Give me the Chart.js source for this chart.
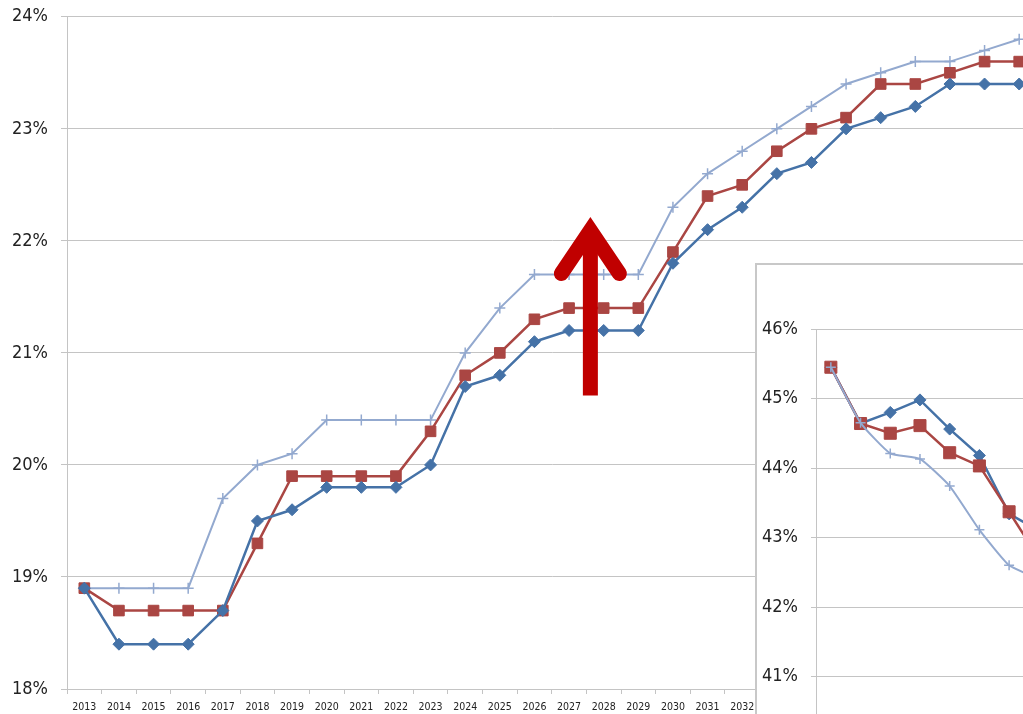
<!DOCTYPE html>
<html>
<head>
    <title>Share chart</title>
    <script src="https://cdn.jsdelivr.net/npm/chart.js"></script>
    <style>
        html, body { margin: 0; padding: 0; overflow: hidden; background: #fff; }
        #main { position: absolute; left: 0; top: -7px; width: 1045px; height: 721px; }
        #inset { position: absolute; left: 755px; top: 263px; width: 425px; height: 506px;
                 background: #fff; border: 2px solid #c8c8c8; }
    </style>
</head>
<body>
    <div id="main"><canvas id="mainChart"></canvas></div>
    <div id="inset"><canvas id="insetChart"></canvas></div>

    <script>
        const years = ['2013','2014','2015','2016','2017','2018','2019','2020','2021','2022',
                       '2023','2024','2025','2026','2027','2028','2029','2030','2031','2032',
                       '2033','2034','2035','2036','2037','2038','2039','2040'];
        const lowSeries = [18.9,18.4,18.4,18.4,18.7,19.5,19.6,19.8,19.8,19.8,
                           20.0,20.7,20.8,21.1,21.2,21.2,21.2,21.8,22.1,22.3,
                           22.6,22.7,23.0,23.1,23.2,23.4,23.4,23.4];
        const midSeries = [18.9,18.7,18.7,18.7,18.7,19.3,19.9,19.9,19.9,19.9,
                           20.3,20.8,21.0,21.3,21.4,21.4,21.4,21.9,22.4,22.5,
                           22.8,23.0,23.1,23.4,23.4,23.5,23.6,23.6];
        const highSeries = [18.9,18.9,18.9,18.9,19.7,20.0,20.1,20.4,20.4,20.4,
                            20.4,21.0,21.4,21.7,21.7,21.7,21.7,22.3,22.6,22.8,
                            23.0,23.2,23.4,23.5,23.6,23.6,23.7,23.8];

        // inset (second panel, cropped by the window)
        const insetLabels = ['1','2','3','4','5','6','7','8','9','10','11','12'];
        const insetLow  = [45.45,44.64,44.80,44.98,44.56,44.18,43.34,43.10];
        const insetMid  = [45.45,44.64,44.50,44.61,44.22,44.03,43.37,42.70];
        const insetHigh = [45.45,44.65,44.21,44.13,43.74,43.11,42.60,42.40];

        const BLUE = '#4572a7', RED = '#aa4643', LIGHT = '#93a9cf';
        const GRID = '#c4c4c4';
        const FONT = '"DejaVu Sans", sans-serif';

        const arrowPlugin = {
            id: 'arrow',
            afterDatasetsDraw(chart) {
                const x = chart.scales.x, y = chart.scales.y;
                const cx = (x.getPixelForValue(14) + x.getPixelForValue(15)) / 2 + 4;
                const tip = y.getPixelForValue(22.2);
                const base = y.getPixelForValue(20.62);
                const ctx = chart.ctx;
                ctx.save();
                ctx.strokeStyle = '#c00000';
                ctx.lineWidth = 15;
                ctx.lineCap = 'butt';
                ctx.beginPath();
                ctx.moveTo(cx, base);
                ctx.lineTo(cx, tip + 12);
                ctx.stroke();
                ctx.lineCap = 'round';
                ctx.lineJoin = 'miter';
                ctx.beginPath();
                ctx.moveTo(cx - 29, tip + 55);
                ctx.lineTo(cx, tip + 12);
                ctx.lineTo(cx + 29, tip + 55);
                ctx.stroke();
                ctx.restore();
            }
        };

        new Chart(document.getElementById('mainChart'), {
            type: 'line',
            data: {
                labels: years,
                datasets: [
                    { data: lowSeries, borderColor: BLUE, backgroundColor: BLUE, borderWidth: 2.5,
                      pointStyle: 'rectRot', pointRadius: 6, pointBorderWidth: 1 },
                    { data: midSeries, borderColor: RED, backgroundColor: RED, borderWidth: 2.5,
                      pointStyle: 'rect', pointRadius: 7.5, pointBorderWidth: 1 },
                    { data: highSeries, borderColor: LIGHT, backgroundColor: LIGHT, borderWidth: 2,
                      pointStyle: 'cross', pointRadius: 5.5, pointBorderWidth: 1.5 }
                ]
            },
            options: {
                responsive: true,
                maintainAspectRatio: false,
                animation: false,
                layout: { padding: { top: 5, right: 0, left: 0, bottom: 0 } },
                plugins: { legend: { display: false }, tooltip: { enabled: false } },
                scales: {
                    x: {
                        offset: true,
                        grid: { offset: true, drawOnChartArea: false, color: GRID, tickLength: 5 },
                        border: { color: GRID },
                        ticks: { font: { family: FONT, size: 10.5, weight: 'condensed' }, color: '#222', padding: 7,
                                 maxRotation: 0, autoSkip: false },
                        afterFit(s) { s.height = 25; }
                    },
                    y: {
                        min: 18, max: 24,
                        grid: { color: GRID, tickLength: 6 },
                        border: { color: GRID },
                        ticks: { stepSize: 1, font: { family: FONT, size: 18, weight: 'condensed' }, color: '#222', padding: 13,
                                 callback: v => v + '%' },
                        afterFit(s) { s.width = 67; }
                    }
                }
            },
            plugins: [arrowPlugin]
        });

        new Chart(document.getElementById('insetChart'), {
            type: 'line',
            data: {
                labels: insetLabels,
                datasets: [
                    { data: insetHigh, borderColor: LIGHT, backgroundColor: LIGHT, borderWidth: 2,
                      pointStyle: 'cross', pointRadius: 5, pointBorderWidth: 1.5, tension: 0.15 },
                    { data: insetMid, borderColor: RED, backgroundColor: RED, borderWidth: 2.5,
                      pointStyle: 'rect', pointRadius: 8.5, pointBorderWidth: 1 },
                    { data: insetLow, borderColor: BLUE, backgroundColor: BLUE, borderWidth: 2.5,
                      pointStyle: 'rectRot', pointRadius: 6, pointBorderWidth: 1 }
                ]
            },
            options: {
                responsive: true,
                maintainAspectRatio: false,
                animation: false,
                layout: { padding: { top: 64, right: 0, left: 0, bottom: 0 } },
                plugins: { legend: { display: false }, tooltip: { enabled: false } },
                scales: {
                    x: {
                        offset: true,
                        grid: { offset: true, drawOnChartArea: false, color: GRID, tickLength: 5 },
                        border: { color: GRID },
                        ticks: { display: false },
                        afterFit(s) { s.height = 25; }
                    },
                    y: {
                        min: 40, max: 46,
                        grid: { color: GRID, tickLength: 5 },
                        border: { color: GRID },
                        ticks: { stepSize: 1, font: { family: FONT, size: 18, weight: 'condensed' }, color: '#222', padding: 13,
                                 callback: v => v + '%' },
                        afterFit(s) { s.width = 59; }
                    }
                }
            }
        });
    </script>
</body>
</html>
